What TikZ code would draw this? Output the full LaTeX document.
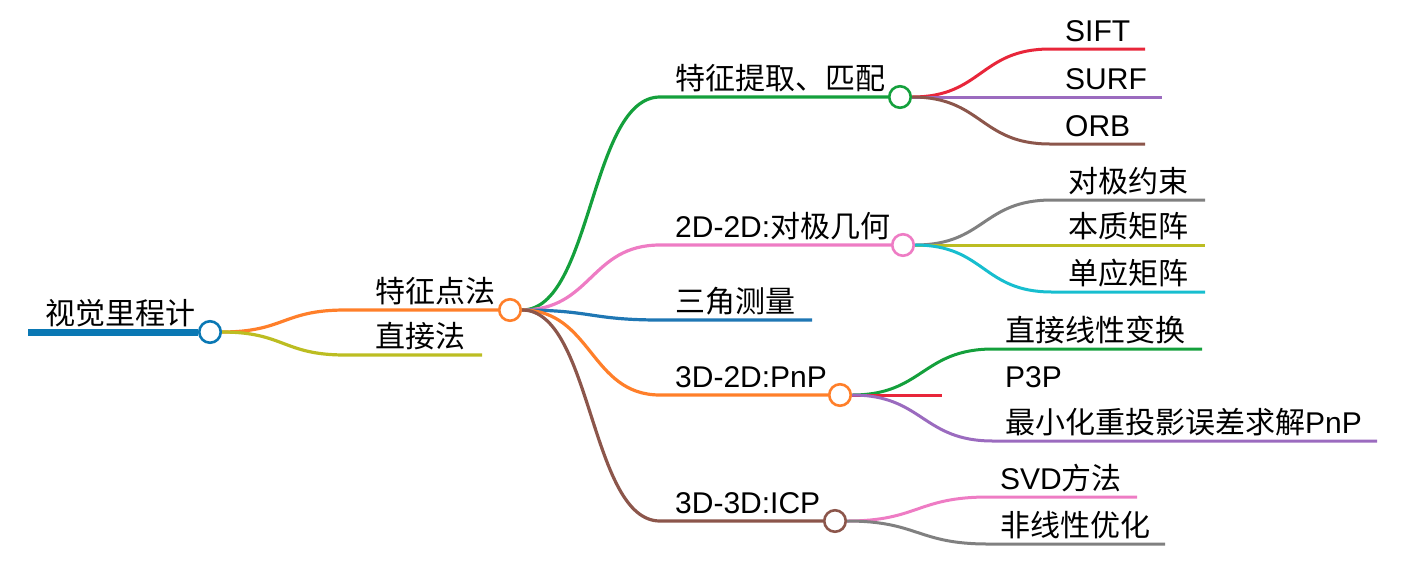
\documentclass[tikz,border=0pt]{standalone}
\usepackage{fontspec}
\setmainfont{Liberation Sans}
\newfontfamily\cjk{Noto Sans CJK SC}
\newcommand{\zh}[1]{{\cjk #1}}
\usetikzlibrary{calc}

\definecolor{cRoot}{HTML}{0A78B4}
\definecolor{cOrange}{HTML}{FF7F2A}
\definecolor{cOlive}{HTML}{BCBD22}
\definecolor{cGreen}{HTML}{14A03C}
\definecolor{cPink}{HTML}{EE7CC4}
\definecolor{cBlue}{HTML}{1F77B4}
\definecolor{cBrown}{HTML}{8C564B}
\definecolor{cRed}{HTML}{E8263A}
\definecolor{cPurple}{HTML}{9B6BBF}
\definecolor{cGray}{HTML}{808080}
\definecolor{cCyan}{HTML}{17BECF}

\tikzset{
  hub/.style={circle,draw=#1,fill=white,line width=2.6pt,minimum size=21.5pt,inner sep=0pt},
  lbl/.style={anchor=base west,inner sep=0pt,font=\fontsize{30}{34}\selectfont},
  link/.style={line width=3.2pt,draw=#1},
  leaf/.style={line width=3pt,draw=#1}
}

\begin{document}
\begin{tikzpicture}[x=1pt,y=-1pt]
        \useasboundingbox (0,0) rectangle (1402,574);

        % Hubs
        \node[hub=cRoot] (hubRoot) at (210,332) {};
        \node[hub=cOrange] (hubFeat) at (510,310) {};
        \node[hub=cGreen] (hubMatch) at (900,97) {};
        \node[hub=cPink] (hubEpi) at (903,245) {};
        \node[hub=cOrange] (hubPnP) at (840,395) {};
        \node[hub=cBrown] (hubICP) at (835,521) {};

        % Curve ends and free line ends
        \coordinate (rootIn) at (28,332);
        \coordinate (featIn) at (345,310);
        \coordinate (directIn) at (345,355);
        \coordinate (directOut) at (482,355);
        \coordinate (matchIn) at (660,97);
        \coordinate (epiIn) at (660,245);
        \coordinate (triIn) at (660,320);
        \coordinate (triOut) at (812,320);
        \coordinate (pnpIn) at (660,395);
        \coordinate (icpIn) at (660,521);
        \coordinate (siftIn) at (1050,49);
        \coordinate (siftOut) at (1145,49);
        \coordinate (surfIn) at (1050,97);
        \coordinate (surfOut) at (1162,97);
        \coordinate (orbIn) at (1050,144);
        \coordinate (orbOut) at (1145,144);
        \coordinate (conIn) at (1052,200);
        \coordinate (conOut) at (1205,200);
        \coordinate (essIn) at (1052,245);
        \coordinate (essOut) at (1205,245);
        \coordinate (homIn) at (1052,292);
        \coordinate (homOut) at (1205,292);
        \coordinate (dltIn) at (993,349);
        \coordinate (dltOut) at (1202,349);
        \coordinate (ppOut) at (942,395);
        \coordinate (baIn) at (993,441);
        \coordinate (baOut) at (1377,441);
        \coordinate (svdIn) at (988,497);
        \coordinate (svdOut) at (1137,497);
        \coordinate (nlIn) at (988,544);
        \coordinate (nlOut) at (1165,544);

        % Root
        \draw[line width=7pt,cRoot] (rootIn) -- (hubRoot.west);
        \node[lbl] (root) at (45,324) {\zh{视觉里程计}};

        % First level
        \draw[link=cOrange] (hubRoot.east) .. controls +(62,0) and +(-62,0) .. (featIn) -- (hubFeat.west);
        \draw[link=cOlive] (hubRoot.east) .. controls +(62,0) and +(-62,0) .. (directIn) -- (directOut);
        \node[lbl] (feat) at (375,302) {\zh{特征点法}};
        \node[lbl] (direct) at (375,347) {\zh{直接法}};

        % Second level
        \draw[link=cGreen] (hubFeat.east) .. controls +(70,0) and +(-70,0) .. (matchIn) -- (hubMatch.west);
        \draw[link=cPink] (hubFeat.east) .. controls +(70,0) and +(-70,0) .. (epiIn) -- (hubEpi.west);
        \draw[link=cBlue] (hubFeat.east) .. controls +(70,0) and +(-70,0) .. (triIn) -- (triOut);
        \draw[link=cOrange] (hubFeat.east) .. controls +(70,0) and +(-70,0) .. (pnpIn) -- (hubPnP.west);
        \draw[link=cBrown] (hubFeat.east) .. controls +(70,0) and +(-70,0) .. (icpIn) -- (hubICP.west);
        \node[lbl] (match) at (675,89) {\zh{特征提取、匹配}};
        \node[lbl] (epi) at (675,237) {2D-2D:\zh{对极几何}};
        \node[lbl] (tri) at (675,312) {\zh{三角测量}};
        \node[lbl] (pnp) at (675,387) {3D-2D:PnP};
        \node[lbl] (icp) at (675,513) {3D-3D:ICP};

        % Features
        \draw[leaf=cRed] (hubMatch.east) .. controls +(70,0) and +(-70,0) .. (siftIn) -- (siftOut);
        \draw[leaf=cPurple] (hubMatch.east) .. controls +(70,0) and +(-70,0) .. (surfIn) -- (surfOut);
        \draw[leaf=cBrown] (hubMatch.east) .. controls +(70,0) and +(-70,0) .. (orbIn) -- (orbOut);
        \node[lbl] (sift) at (1065,41) {SIFT};
        \node[lbl] (surf) at (1065,89) {SURF};
        \node[lbl] (orb) at (1065,136) {ORB};

        % Epipolar geometry
        \draw[leaf=cGray] (hubEpi.east) .. controls +(70,0) and +(-70,0) .. (conIn) -- (conOut);
        \draw[leaf=cOlive] (hubEpi.east) .. controls +(70,0) and +(-70,0) .. (essIn) -- (essOut);
        \draw[leaf=cCyan] (hubEpi.east) .. controls +(70,0) and +(-70,0) .. (homIn) -- (homOut);
        \node[lbl] (con) at (1068,192) {\zh{对极约束}};
        \node[lbl] (ess) at (1068,237) {\zh{本质矩阵}};
        \node[lbl] (hom) at (1068,284) {\zh{单应矩阵}};

        % PnP
        \draw[leaf=cGreen] (hubPnP.east) .. controls +(71,0) and +(-71,0) .. (dltIn) -- (dltOut);
        \draw[leaf=cRed] (hubPnP.east) -- (ppOut);
        \draw[leaf=cPurple] (hubPnP.east) .. controls +(71,0) and +(-71,0) .. (baIn) -- (baOut);
        \node[lbl] (dlt) at (1005,341) {\zh{直接线性变换}};
        \node[lbl] (pp) at (1005,387) {P3P};
        \node[lbl] (ba) at (1005,433) {\zh{最小化重投影误差求解}PnP};

        % ICP
        \draw[leaf=cPink] (hubICP.east) .. controls +(71,0) and +(-71,0) .. (svdIn) -- (svdOut);
        \draw[leaf=cGray] (hubICP.east) .. controls +(71,0) and +(-71,0) .. (nlIn) -- (nlOut);
        \node[lbl] (svd) at (1000,489) {SVD\zh{方法}};
        \node[lbl] (nl) at (1000,536) {\zh{非线性优化}};
\end{tikzpicture}
\end{document}
